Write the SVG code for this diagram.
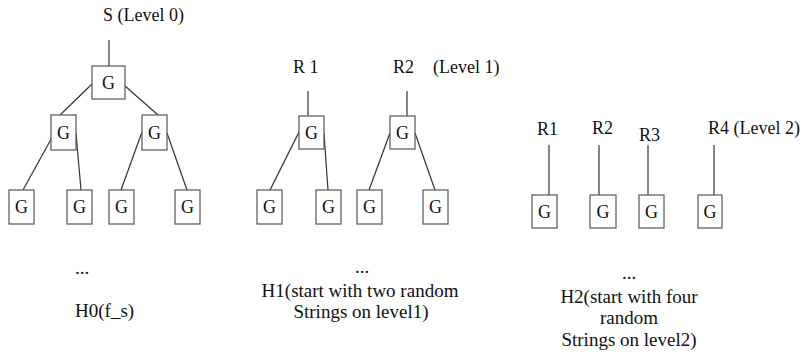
<svg xmlns="http://www.w3.org/2000/svg" width="806" height="358" viewBox="0 0 806 358">
<style>
text{font-family:'Liberation Serif','Tinos','DejaVu Serif',serif;font-size:18px;fill:#111}
.b{fill:#fff;stroke:#555;stroke-width:1.2}
.g{text-anchor:middle;dominant-baseline:central}
.c line{stroke:#333;stroke-width:1.2}
.m{text-anchor:middle}
.lab{font-size:19px}
</style>
<rect width="806" height="358" fill="#fff"/>
<g class="c" id="connectors">
<line x1="109" y1="40" x2="109" y2="66"/>
<line x1="92" y1="84" x2="60" y2="115"/>
<line x1="125" y1="86" x2="158" y2="115"/>
<line x1="55" y1="132" x2="23" y2="190"/>
<line x1="76" y1="133" x2="81" y2="190"/>
<line x1="142" y1="132" x2="121" y2="190"/>
<line x1="167" y1="133" x2="187" y2="190"/>
<line x1="308" y1="91" x2="308" y2="116"/>
<line x1="407" y1="91" x2="407" y2="116"/>
<line x1="299" y1="132" x2="270" y2="190"/>
<line x1="324" y1="133" x2="328" y2="190"/>
<line x1="390" y1="133" x2="369" y2="190"/>
<line x1="415" y1="133" x2="435" y2="190"/>
<line x1="549" y1="145" x2="549" y2="195"/>
<line x1="599" y1="145" x2="599" y2="195"/>
<line x1="648" y1="145" x2="648" y2="195"/>
<line x1="714" y1="145" x2="714" y2="195"/>
</g>
<g id="labels-top">
<text x="103" y="21">S (Level 0)</text>
<text x="293" y="73">R 1</text>
<text x="393" y="73">R2</text>
<text x="433" y="73">(Level 1)</text>
<text x="537" y="135">R1</text>
<text x="592" y="134">R2</text>
<text x="639" y="141">R3</text>
<text x="708" y="134">R4 (Level 2)</text>
</g>
<g id="h0-root"><rect class="b" x="92" y="66" width="33" height="33"/><text class="g" x="108.5" y="82.5">G</text></g>
<g id="h0-l"><rect class="b" x="51" y="115" width="25" height="35"/><text class="g" x="63.5" y="132.5">G</text></g>
<g id="h0-r"><rect class="b" x="142" y="115" width="25" height="35"/><text class="g" x="154.5" y="132.5">G</text></g>
<g id="h0-ll"><rect class="b" x="9" y="190" width="25" height="34"/><text class="g" x="21.5" y="207">G</text></g>
<g id="h0-lr"><rect class="b" x="67" y="190" width="25" height="34"/><text class="g" x="79.5" y="207">G</text></g>
<g id="h0-rl"><rect class="b" x="109" y="190" width="25" height="34"/><text class="g" x="121.5" y="207">G</text></g>
<g id="h0-rr"><rect class="b" x="175" y="190" width="25" height="34"/><text class="g" x="187.5" y="207">G</text></g>
<g id="h1-r1"><rect class="b" x="299" y="116" width="25" height="33"/><text class="g" x="311.5" y="132.5">G</text></g>
<g id="h1-r2"><rect class="b" x="390" y="116" width="25" height="33"/><text class="g" x="402.5" y="132.5">G</text></g>
<g id="h1-r1l"><rect class="b" x="257" y="190" width="25" height="34"/><text class="g" x="269.5" y="207">G</text></g>
<g id="h1-r1r"><rect class="b" x="316" y="190" width="25" height="34"/><text class="g" x="328.5" y="207">G</text></g>
<g id="h1-r2l"><rect class="b" x="357" y="190" width="25" height="34"/><text class="g" x="369.5" y="207">G</text></g>
<g id="h1-r2r"><rect class="b" x="423" y="190" width="25" height="34"/><text class="g" x="435.5" y="207">G</text></g>
<g id="h2-r1"><rect class="b" x="532" y="195" width="25" height="33"/><text class="g" x="544.5" y="211.5">G</text></g>
<g id="h2-r2"><rect class="b" x="590" y="195" width="26" height="33"/><text class="g" x="603" y="211.5">G</text></g>
<g id="h2-r3"><rect class="b" x="639" y="195" width="25" height="33"/><text class="g" x="651.5" y="211.5">G</text></g>
<g id="h2-r4"><rect class="b" x="698" y="195" width="24" height="33"/><text class="g" x="710" y="211.5">G</text></g>
<g id="captions">
<text class="lab" x="75" y="274">...</text>
<text class="lab" x="75" y="317">H0(f_s)</text>
<text class="lab m" x="362" y="273">...</text>
<text class="lab m" x="360" y="297">H1(start with two random</text>
<text class="lab m" x="361" y="318">Strings on level1)</text>
<text class="lab m" x="629" y="279">...</text>
<text class="lab m" x="629" y="303">H2(start with four</text>
<text class="lab m" x="629" y="324">random</text>
<text class="lab m" x="629" y="346">Strings on level2)</text>
</g>
</svg>
